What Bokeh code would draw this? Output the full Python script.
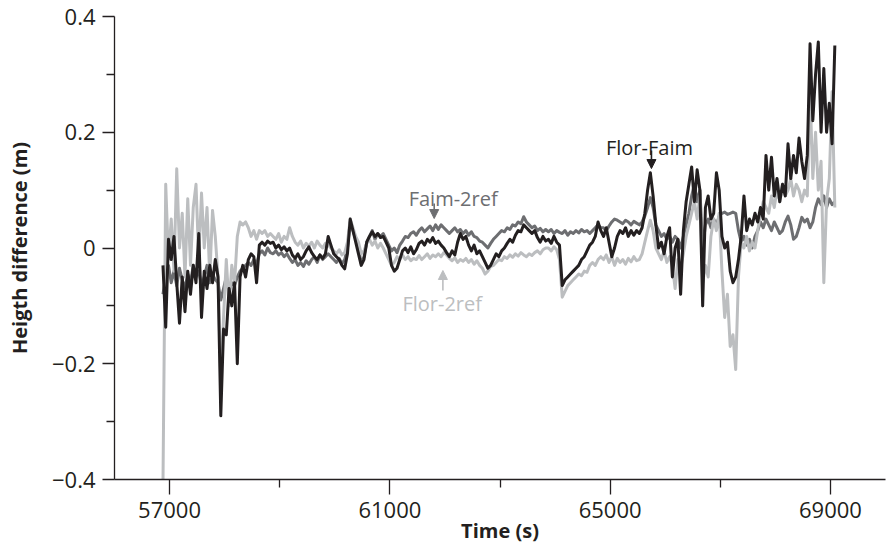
import numpy as np
from bokeh.plotting import figure
from bokeh.models import Range1d, FixedTicker, Label, Arrow, NormalHead, ColumnDataSource
from bokeh.embed import file_html
from bokeh.resources import INLINE

# ---- data ----
TIME_START = 56880   # s
TIME_STEP = 50       # s

FLOR_FAIM = [
    -0.03, -0.137, 0.015, -0.02, 0.02, -0.06, -0.13, -0.05, -0.11, -0.04, -0.08, -0.03, -0.06, 0.025, -0.12, -0.04, -0.07, -0.03, -0.06, -0.02,
    -0.05, -0.29, -0.14, -0.15, -0.07, -0.1, -0.06, -0.2, -0.05, -0.03, -0.05, -0.02, -0.01, -0.015, -0.06, 0.005, 0.01, 0.005, 0.012, 0.008,
    0.01, 0.0, 0.005, -0.003, 0.002, -0.005, 0.0, -0.012, -0.018, -0.01, -0.02, -0.015, -0.005, 0.002, -0.008, -0.015, -0.02, -0.012, -0.018, -0.01,
    0.02, 0.005, -0.01, -0.015, -0.02, -0.03, -0.036, -0.01, 0.05, 0.03, 0.01, -0.01, -0.03, -0.02, 0.01, 0.02, 0.028, 0.02, 0.025, 0.018,
    0.02, 0.01, 0.0, -0.03, -0.04, -0.035, -0.02, -0.005, 0.0, -0.008, 0.002, -0.01, -0.003, 0.008, 0.012, 0.005, 0.015, 0.01, 0.018, 0.008,
    0.012, 0.005, 0.0, -0.008, -0.015, -0.005, -0.012, 0.01, 0.025, 0.015, 0.02, 0.005, -0.005, 0.005, -0.01, -0.005, -0.015, -0.025, -0.035, -0.03,
    -0.02, -0.01, -0.015, -0.005, 0.0, 0.008, 0.015, 0.01, 0.022, 0.03, 0.028, 0.04, 0.035, 0.03, 0.025, 0.03, 0.018, 0.01, 0.02, 0.012,
    0.015, 0.008, 0.02, 0.01, 0.005, -0.065, -0.055, -0.05, -0.045, -0.04, -0.035, -0.03, -0.02, -0.015, -0.005, 0.005, 0.01, 0.02, 0.045, 0.03,
    0.02, 0.035, 0.01, -0.015, 0.0, 0.02, 0.03, 0.025, 0.035, 0.02, 0.03, 0.022, 0.03, 0.025, 0.035, 0.06, 0.1, 0.13, 0.09, 0.04,
    0.0, 0.01, -0.01, 0.02, 0.035, -0.05, 0.0, 0.015, -0.08, 0.03, 0.08, 0.11, 0.14, 0.08, 0.135, 0.1, -0.1, 0.07, 0.09, 0.05,
    0.06, 0.13, 0.1, 0.02, 0.0, 0.01, -0.04, -0.06, -0.05, -0.02, 0.02, 0.09, 0.03, 0.05, 0.04, 0.06, 0.045, 0.07, 0.05, 0.16,
    0.1, 0.157, 0.09, 0.12, 0.08, 0.11, 0.09, 0.18, 0.12, 0.16, 0.13, 0.19, 0.15, 0.12, 0.16, 0.353, 0.22, 0.3, 0.356, 0.2,
    0.31, 0.2, 0.25, 0.18, 0.35,
]

FAIM_2REF = [
    -0.08, -0.05, -0.03, -0.06, -0.04, -0.065, -0.035, -0.055, -0.07, -0.045, -0.06, -0.03, -0.05, -0.04, -0.065, -0.05, -0.03, -0.06, -0.045, -0.055,
    -0.06, -0.09, -0.07, -0.05, -0.075, -0.06, -0.065, -0.05, -0.04, -0.035, -0.03, -0.025, -0.03, -0.02, -0.028, -0.01, -0.005, -0.012, 0.0, -0.008,
    -0.01, -0.005, -0.012, -0.008, -0.015, -0.01, -0.018, -0.025, -0.02, -0.03, -0.025, -0.032, -0.022, -0.028, -0.02, -0.015, -0.025, -0.012, -0.02, -0.015,
    -0.01, -0.015, -0.02, -0.025, -0.018, -0.027, -0.02, 0.0, 0.045, 0.03, 0.015, 0.0, -0.027, -0.015, 0.01, 0.02, 0.03, 0.015, 0.025, 0.02,
    0.025, 0.015, 0.005, -0.005, 0.0, -0.008, 0.005, 0.012, 0.02, 0.018, 0.025, 0.028, 0.022, 0.03, 0.035, 0.028, 0.033, 0.038, 0.03, 0.04,
    0.032, 0.04, 0.035, 0.03, 0.025, 0.03, 0.035, 0.028, 0.032, 0.025, 0.03, 0.022, 0.028, 0.02, 0.018, 0.012, 0.01, 0.005, 0.0, 0.008,
    0.015, 0.02, 0.025, 0.03, 0.028, 0.035, 0.032, 0.04, 0.038, 0.045, 0.042, 0.054, 0.045, 0.04, 0.035, 0.038, 0.03, 0.034, 0.028, 0.032,
    0.028, 0.032, 0.025, 0.03, 0.027, 0.025, 0.03, 0.022, 0.028, 0.025, 0.03, 0.026, 0.032, 0.028, 0.03, 0.025, 0.03, 0.035, 0.04, 0.035,
    0.035, 0.03, 0.038, 0.045, 0.05, 0.048, 0.045, 0.042, 0.048, 0.045, 0.04, 0.046, 0.043, 0.04, 0.045, 0.055, 0.07, 0.087, 0.07, 0.04,
    0.03, 0.02, 0.025, 0.015, 0.02, 0.01, 0.02, 0.015, 0.0, 0.02, 0.04, 0.06, 0.09, 0.11, 0.08, 0.1, 0.0, 0.04, 0.05, 0.035,
    0.05, 0.04, 0.055, 0.06, 0.062, 0.058, 0.06, 0.062, 0.06, 0.03, 0.01, 0.02, 0.005, 0.015, 0.0, 0.02, 0.03, 0.045, 0.035, 0.05,
    0.04, 0.03, 0.045, 0.035, 0.025, 0.03, 0.045, 0.055, 0.04, 0.015, 0.02, 0.035, 0.053, 0.045, 0.05, 0.035, 0.045, 0.07, 0.085, 0.075,
    0.09, 0.07, 0.085, 0.075, 0.08,
]

FLOR_2REF = [
    -0.41, 0.11, -0.02, 0.05, -0.04, 0.137, 0.0, 0.06, -0.05, 0.085, -0.03, 0.07, 0.11, -0.02, 0.095, 0.0, 0.07, -0.05, 0.065, 0.02,
    -0.05, -0.23, -0.12, -0.02, -0.1, -0.03, -0.06, 0.02, 0.045, 0.04, 0.045, 0.035, 0.02, 0.03, 0.015, 0.03, 0.025, 0.03, 0.02, 0.025,
    0.02, 0.015, 0.025, 0.01, 0.02, 0.015, 0.035, 0.02, 0.01, 0.005, 0.012, 0.0, 0.008, 0.003, 0.01, 0.0, 0.012, 0.005, 0.0, 0.008,
    0.005, 0.0, -0.005, -0.01, -0.003, -0.012, -0.008, 0.01, 0.05, 0.035, 0.02, 0.01, -0.01, -0.005, 0.008, 0.015, 0.005, 0.012, 0.0, 0.008,
    0.0, -0.01, -0.02, -0.03, -0.025, -0.015, -0.02, -0.012, -0.02, -0.015, -0.022, -0.018, -0.02, -0.013, -0.02, -0.015, -0.01, -0.018, -0.012, -0.015,
    -0.01, -0.015, -0.008, -0.012, -0.018, -0.022, -0.017, -0.025, -0.02, -0.023, -0.018, -0.025, -0.02, -0.028, -0.022, -0.03, -0.035, -0.045, -0.04, -0.032,
    -0.03, -0.025, -0.02, -0.022, -0.015, -0.018, -0.012, -0.016, -0.01, -0.014, -0.008, -0.012, -0.015, -0.01, -0.013, -0.008, -0.005, -0.01, -0.003, 0.0,
    0.0, -0.005, 0.002, -0.003, -0.02, -0.085, -0.075, -0.065, -0.06, -0.055, -0.05, -0.045, -0.048, -0.04, -0.042, -0.03, -0.025, -0.03, -0.02, -0.015,
    -0.02, -0.012, -0.025, -0.015, -0.03, -0.018, -0.025, -0.02, -0.028, -0.018, -0.024, -0.015, -0.022, -0.02, -0.01, 0.01, 0.03, 0.048, 0.03, 0.0,
    -0.01, -0.02, -0.005, -0.025, -0.015, -0.03, -0.07, -0.02, -0.035, -0.01, 0.02, 0.04, 0.06, 0.08, 0.05, 0.09, -0.06, -0.03, -0.05, 0.02,
    0.05, 0.03, 0.06, -0.04, -0.12, -0.08, -0.17, -0.15, -0.21, -0.05, 0.01, 0.0, 0.02, -0.005, 0.01, 0.0, 0.03, 0.06, 0.08, 0.07,
    0.06, 0.09, 0.07, 0.1, 0.08, 0.11, 0.09, 0.1, 0.12, 0.09, 0.11, 0.1, 0.08, 0.1, 0.09, 0.27, 0.12, 0.2, 0.1, 0.15,
    -0.06, 0.08, 0.12, 0.27, 0.07,
]

X_MAJOR = [57000, 61000, 65000, 69000]
X_MINOR = [59000, 63000, 67000]
X_LABELS = ["57000", "61000", "65000", "69000"]
Y_MAJOR = [-0.4, -0.2, 0, 0.2, 0.4]
Y_MINOR = [-0.3, -0.1, 0.1, 0.3]
Y_LABELS = ["\u22120.4", "\u22120.2", "0", "0.2", "0.4"]

X_TITLE = "Time (s)"
Y_TITLE = "Heigth difference (m)"

# annotation labels: text, label x, label baseline y, arrow x, arrow tail y, arrow head y
ANN_TEXT = ["Flor-Faim", "Faim-2ref", "Flor-2ref"]
ANN_X = [65714, 62150, 61950]
ANN_Y = [0.1736, 0.0855, -0.0959]
ARR_X = [65750, 61805, 61963]
ARR_Y0 = [0.1684, 0.0769, -0.0734]
ARR_Y1 = [0.1373, 0.0509, -0.0389]

BLACK = "#231f20"
DARK = "#6d6e71"
LIGHT = "#bcbec0"
ANN_COLORS = [BLACK, DARK, LIGHT]
FONT = "Open Sans"

n = len(FLOR_FAIM)
assert n == len(FAIM_2REF) == len(FLOR_2REF)
time = TIME_START + TIME_STEP * np.arange(n)
src = ColumnDataSource(dict(t=time, ff=FLOR_FAIM, f2=FAIM_2REF, l2=FLOR_2REF))

p = figure(width=892, height=548,
           x_range=Range1d(56000, 70000), y_range=Range1d(-0.4, 0.4),
           output_backend="svg", toolbar_location=None,
           min_border_left=114, min_border_right=7,
           min_border_top=16, min_border_bottom=69)
p.grid.visible = False
p.outline_line_color = None
p.background_fill_color = "white"

LW = 3.0
p.line("t", "f2", source=src, line_color=DARK, line_width=LW, line_join="round")
p.line("t", "l2", source=src, line_color=LIGHT, line_width=LW, line_join="round")
p.line("t", "ff", source=src, line_color=BLACK, line_width=LW, line_join="round")

# axes
xa = p.xaxis[0]
xa.ticker = FixedTicker(ticks=X_MAJOR, minor_ticks=X_MINOR)
xa.major_label_overrides = {t: s for t, s in zip(X_MAJOR, X_LABELS)}
xa.axis_label = X_TITLE
xa.major_tick_out = 15
xa.major_tick_in = 0
xa.minor_tick_out = 8
xa.minor_tick_in = 0
xa.major_label_standoff = 7
xa.axis_label_standoff = -4

ya = p.yaxis[0]
ya.ticker = FixedTicker(ticks=Y_MAJOR, minor_ticks=Y_MINOR)
ya.major_label_overrides = {t: s for t, s in zip(Y_MAJOR, Y_LABELS)}
ya.axis_label = Y_TITLE
ya.major_tick_out = 12
ya.major_tick_in = 0
ya.minor_tick_out = 8
ya.minor_tick_in = 0
ya.major_label_standoff = 7
ya.axis_label_standoff = 16

for ax in (xa, ya):
    ax.axis_line_color = BLACK
    ax.axis_line_width = 1.3
    ax.major_tick_line_color = BLACK
    ax.major_tick_line_width = 1.3
    ax.minor_tick_line_color = BLACK
    ax.minor_tick_line_width = 1.3
    ax.major_label_text_font = FONT
    ax.major_label_text_font_size = "22px"
    ax.major_label_text_color = BLACK
    ax.axis_label_text_font = FONT
    ax.axis_label_text_font_size = "20px"
    ax.axis_label_text_font_style = "bold"
    ax.axis_label_text_color = BLACK

for txt, lx, ly, ax_, y0, y1, col in zip(ANN_TEXT, ANN_X, ANN_Y, ARR_X, ARR_Y0, ARR_Y1, ANN_COLORS):
    p.add_layout(Label(x=lx, y=ly, text=txt, text_font=FONT, text_font_size="20px",
                       text_color=col, text_align="center", text_baseline="alphabetic"))
    p.add_layout(Arrow(x_start=ax_, y_start=y0, x_end=ax_, y_end=y1,
                       line_color=col, line_width=1.6,
                       end=NormalHead(size=9, fill_color=col, line_color=col, line_width=1)))

open("out.html", "w").write(file_html(p, INLINE))
